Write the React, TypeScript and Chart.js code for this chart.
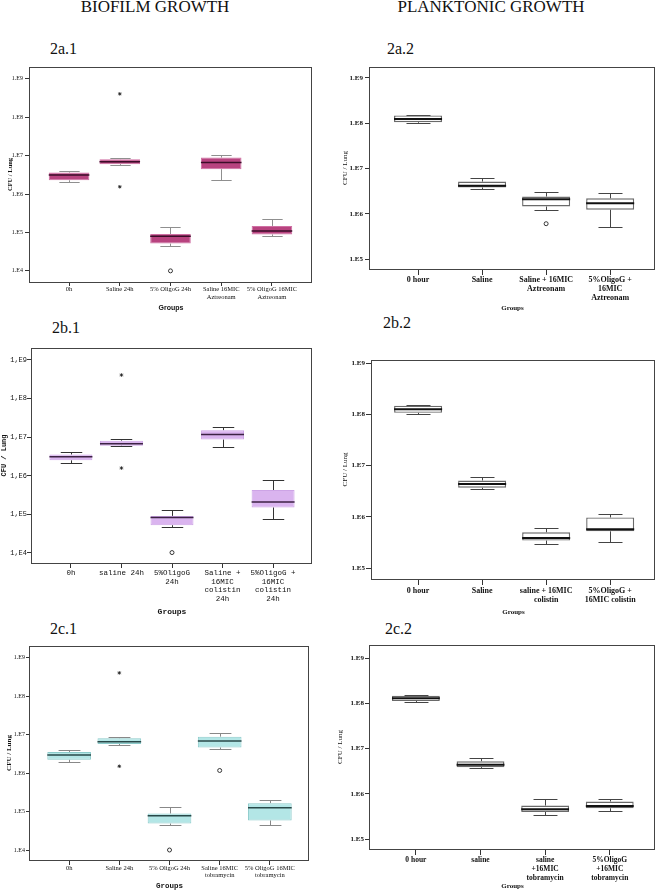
import React, { useEffect, useRef } from "react";
import { Chart, registerables } from "chart.js";
Chart.register(...registerables);

type Pt = { x: number; y: number };

// ---------- 2a.1 (biofilm, aztreonam) values are log10 CFU/Lung ----------
const a1Labels = [["0h"], ["Saline 24h"], ["5% OligoG 24h"], ["Saline 16MIC", "Aztreonam"], ["5% OligoG 16MIC", "Aztreonam"]];
const a1Lo = [6.32, 6.75, 4.65, 6.36, 4.9];
const a1Q1 = [6.36, 6.78, 4.71, 6.65, 4.95];
const a1Med = [6.5, 6.84, 4.9, 6.82, 5.04];
const a1Q3 = [6.56, 6.91, 4.96, 6.95, 5.17];
const a1Hi = [6.61, 6.95, 5.13, 7.01, 5.36];
const a1Circles: Pt[] = [{ x: 2, y: 4.0 }];
const a1Stars: Pt[] = [{ x: 1, y: 8.61 }, { x: 1, y: 6.19 }];
const a1Ticks = [4, 5, 6, 7, 8, 9];
const a1TickLabels = ["1.E4", "1.E5", "1.E6", "1.E7", "1.E8", "1.E9"];

// ---------- 2a.2 (planktonic, aztreonam) ----------
const a2Labels = [["0 hour"], ["Saline"], ["Saline + 16MIC", "Aztreonam"], ["5%OligoG +", "16MIC", "Aztreonam"]];
const a2Lo = [8.01, 6.54, 6.09, 5.7];
const a2Q1 = [8.02, 6.58, 6.16, 6.09];
const a2Med = [8.09, 6.62, 6.32, 6.23];
const a2Q3 = [8.17, 6.71, 6.38, 6.34];
const a2Hi = [8.19, 6.78, 6.48, 6.45];
const a2Circles: Pt[] = [{ x: 2, y: 5.78 }];
const a2Stars: Pt[] = [];
const a2Ticks = [5, 6, 7, 8, 9];
const a2TickLabels = ["1.E5", "1.E6", "1.E7", "1.E8", "1.E9"];

// ---------- 2b.1 (biofilm, colistin) ----------
const b1Labels = [["0h"], ["saline 24h"], ["5%OligoG", "24h"], ["Saline +", "16MIC", "colistin", "24h"], ["5%OligoG +", "16MIC", "colistin", "24h"]];
const b1Lo = [6.33, 6.76, 4.67, 6.75, 4.89];
const b1Q1 = [6.4, 6.78, 4.72, 6.94, 5.18];
const b1Med = [6.49, 6.83, 4.92, 7.07, 5.32];
const b1Q3 = [6.55, 6.91, 4.96, 7.18, 5.63];
const b1Hi = [6.62, 6.94, 5.12, 7.26, 5.9];
const b1Circles: Pt[] = [{ x: 2, y: 4.01 }];
const b1Stars: Pt[] = [{ x: 1, y: 8.61 }, { x: 1, y: 6.2 }];
const b1Ticks = [4, 5, 6, 7, 8, 9];
const b1TickLabels = ["1,E4", "1,E5", "1,E6", "1,E7", "1,E8", "1,E9"];

// ---------- 2b.2 (planktonic, colistin) ----------
const b2Labels = [["0 hour"], ["Saline"], ["saline + 16MIC", "colistin"], ["5%OligoG +", "16MIC colistin"]];
const b2Lo = [8.01, 6.54, 5.48, 5.51];
const b2Q1 = [8.03, 6.57, 5.54, 5.72];
const b2Med = [8.1, 6.64, 5.59, 5.76];
const b2Q3 = [8.17, 6.71, 5.7, 5.99];
const b2Hi = [8.18, 6.78, 5.78, 6.05];
const b2Circles: Pt[] = [];
const b2Stars: Pt[] = [];
const b2Ticks = [5, 6, 7, 8, 9];
const b2TickLabels = ["1.E5", "1.E6", "1.E7", "1.E8", "1.E9"];

// ---------- 2c.1 (biofilm, tobramycin) ----------
const c1Labels = [["0h"], ["Saline 24h"], ["5% OligoG 24h"], ["Saline 16MIC", "tobramycin"], ["5% OligoG 16MIC", "tobramycin"]];
const c1Lo = [6.3, 6.74, 4.64, 6.64, 4.64];
const c1Q1 = [6.35, 6.76, 4.69, 6.67, 4.77];
const c1Med = [6.47, 6.82, 4.89, 6.84, 5.1];
const c1Q3 = [6.55, 6.91, 4.95, 6.95, 5.22];
const c1Hi = [6.61, 6.94, 5.12, 7.05, 5.3];
const c1Circles: Pt[] = [{ x: 2, y: 4.0 }, { x: 3, y: 6.07 }];
const c1Stars: Pt[] = [{ x: 1, y: 8.61 }, { x: 1, y: 6.18 }];
const c1Ticks = [4, 5, 6, 7, 8, 9];
const c1TickLabels = ["1.E4", "1.E5", "1.E6", "1.E7", "1.E8", "1.E9"];

// ---------- 2c.2 (planktonic, tobramycin) ----------
const c2Labels = [["0 hour"], ["saline"], ["saline", "+16MIC", "tobramycin"], ["5%OligoG", "+16MIC", "tobramycin"]];
const c2Lo = [8.02, 6.56, 5.53, 5.62];
const c2Q1 = [8.05, 6.59, 5.6, 5.68];
const c2Med = [8.11, 6.64, 5.66, 5.73];
const c2Q3 = [8.17, 6.72, 5.74, 5.83];
const c2Hi = [8.19, 6.8, 5.88, 5.88];
const c2Circles: Pt[] = [];
const c2Stars: Pt[] = [];
const c2Ticks = [5, 6, 7, 8, 9];
const c2TickLabels = ["1.E5", "1.E6", "1.E7", "1.E8", "1.E9"];

type Font = { family: string; size: number; weight?: string; lineHeight?: number };

type PanelCfg = {
  title: string; titleX: number; titleY: number;
  left: number; top: number; width: number; height: number;
  plotL: number; plotT: number; plotR: number; plotB: number;
  labels: string[][]; lo: number[]; q1: number[]; med: number[]; q3: number[]; hi: number[];
  circles: Pt[]; stars: Pt[]; yTicks: number[]; yTickLabels: string[];
  yMin: number; yMax: number; xMin: number; xMax: number; boxFrac: number;
  fill: string; stroke: string; strokeW: number; medColor: string; medWidth: number; whisker: string;
  tickFont: Font; labelFont: Font; yTitleFont: Font; xTitleFont: Font;
  yTickLen: number; yTickPad: number; xTickLen: number; xTickPad: number; yTitlePad: number;
};

const SERIF = "'Liberation Serif', 'Times New Roman', serif";
const MONO = "'Liberation Mono', 'Courier New', monospace";
const SANS = "'Liberation Sans', Arial, sans-serif";

const panels: PanelCfg[] = [
  {
    title: "2a.1", titleX: 50, titleY: 41,
    left: 0, top: 60, width: 318, height: 252, plotL: 30, plotT: 67, plotR: 312, plotB: 282,
    labels: a1Labels, lo: a1Lo, q1: a1Q1, med: a1Med, q3: a1Q3, hi: a1Hi,
    circles: a1Circles, stars: a1Stars, yTicks: a1Ticks, yTickLabels: a1TickLabels,
    yMin: 3.71, yMax: 9.31, xMin: -0.77, xMax: 4.79, boxFrac: 0.8,
    fill: "#b8437f", stroke: "#cf6fa3", strokeW: 1, medColor: "#3a0d28", medWidth: 1.5, whisker: "#8f8f8f",
    tickFont: { family: SERIF, size: 6 }, labelFont: { family: SERIF, size: 6.5, lineHeight: 1.15 },
    yTitleFont: { family: SERIF, size: 6.5, weight: "bold" }, xTitleFont: { family: SANS, size: 7, weight: "bold" },
    yTickLen: 5, yTickPad: 2, xTickLen: 4, xTickPad: 0, yTitlePad: 6,
  },
  {
    title: "2a.2", titleX: 387, titleY: 41,
    left: 330, top: 60, width: 330, height: 252, plotL: 370, plotT: 67, plotR: 655, plotB: 269,
    labels: a2Labels, lo: a2Lo, q1: a2Q1, med: a2Med, q3: a2Q3, hi: a2Hi,
    circles: a2Circles, stars: a2Stars, yTicks: a2Ticks, yTickLabels: a2TickLabels,
    yMin: 4.78, yMax: 9.24, xMin: -0.75, xMax: 3.7, boxFrac: 0.75,
    fill: "#ffffff", stroke: "#6a6a6a", strokeW: 1.4, medColor: "#111111", medWidth: 2, whisker: "#444444",
    tickFont: { family: SERIF, size: 7, weight: "bold" }, labelFont: { family: SERIF, size: 8, weight: "bold", lineHeight: 1.1 },
    yTitleFont: { family: SERIF, size: 7 }, xTitleFont: { family: SERIF, size: 7, weight: "bold" },
    yTickLen: 5, yTickPad: 2, xTickLen: 6, xTickPad: 1, yTitlePad: 11,
  },
  {
    title: "2b.1", titleX: 52, titleY: 320,
    left: 0, top: 340, width: 318, height: 277, plotL: 32, plotT: 348, plotR: 312, plotB: 563,
    labels: b1Labels, lo: b1Lo, q1: b1Q1, med: b1Med, q3: b1Q3, hi: b1Hi,
    circles: b1Circles, stars: b1Stars, yTicks: b1Ticks, yTickLabels: b1TickLabels,
    yMin: 3.74, yMax: 9.31, xMin: -0.77, xMax: 4.77, boxFrac: 0.85,
    fill: "#dab4ef", stroke: "#cda4e6", strokeW: 1, medColor: "#3c2244", medWidth: 1.5, whisker: "#333333",
    tickFont: { family: MONO, size: 7 }, labelFont: { family: MONO, size: 7.5, lineHeight: 1.13 },
    yTitleFont: { family: MONO, size: 7, weight: "bold" }, xTitleFont: { family: MONO, size: 8, weight: "bold" },
    yTickLen: 5, yTickPad: 0, xTickLen: 5, xTickPad: 1, yTitlePad: 0,
  },
  {
    title: "2b.2", titleX: 383, titleY: 315,
    left: 330, top: 350, width: 330, height: 266, plotL: 372, plotT: 360, plotR: 655, plotB: 579,
    labels: b2Labels, lo: b2Lo, q1: b2Q1, med: b2Med, q3: b2Q3, hi: b2Hi,
    circles: b2Circles, stars: b2Stars, yTicks: b2Ticks, yTickLabels: b2TickLabels,
    yMin: 4.79, yMax: 9.06, xMin: -0.72, xMax: 3.7, boxFrac: 0.75,
    fill: "#ffffff", stroke: "#6a6a6a", strokeW: 1.4, medColor: "#111111", medWidth: 2, whisker: "#444444",
    tickFont: { family: SERIF, size: 7, weight: "bold" }, labelFont: { family: SERIF, size: 8, weight: "bold", lineHeight: 1.15 },
    yTitleFont: { family: SERIF, size: 7 }, xTitleFont: { family: SERIF, size: 7, weight: "bold" },
    yTickLen: 6, yTickPad: 1, xTickLen: 6, xTickPad: 1, yTitlePad: 11,
  },
  {
    title: "2c.1", titleX: 50, titleY: 621,
    left: 0, top: 638, width: 318, height: 253, plotL: 30, plotT: 646, plotR: 309, plotB: 860,
    labels: c1Labels, lo: c1Lo, q1: c1Q1, med: c1Med, q3: c1Q3, hi: c1Hi,
    circles: c1Circles, stars: c1Stars, yTicks: c1Ticks, yTickLabels: c1TickLabels,
    yMin: 3.74, yMax: 9.31, xMin: -0.78, xMax: 4.78, boxFrac: 0.87,
    fill: "#b3e6e6", stroke: "#8ccbcb", strokeW: 1, medColor: "#284848", medWidth: 1.5, whisker: "#888888",
    tickFont: { family: SERIF, size: 6 }, labelFont: { family: SERIF, size: 6.5, lineHeight: 1.1 },
    yTitleFont: { family: SERIF, size: 7, weight: "bold" }, xTitleFont: { family: MONO, size: 7.5, weight: "bold" },
    yTickLen: 4, yTickPad: 1, xTickLen: 5, xTickPad: 0, yTitlePad: 5,
  },
  {
    title: "2c.2", titleX: 385, titleY: 621,
    left: 330, top: 637, width: 330, height: 253, plotL: 370, plotT: 645, plotR: 655, plotB: 849,
    labels: c2Labels, lo: c2Lo, q1: c2Q1, med: c2Med, q3: c2Q3, hi: c2Hi,
    circles: c2Circles, stars: c2Stars, yTicks: c2Ticks, yTickLabels: c2TickLabels,
    yMin: 4.78, yMax: 9.29, xMin: -0.71, xMax: 3.7, boxFrac: 0.74,
    fill: "#ffffff", stroke: "#6a6a6a", strokeW: 1.4, medColor: "#111111", medWidth: 2, whisker: "#444444",
    tickFont: { family: SERIF, size: 7, weight: "bold" }, labelFont: { family: SERIF, size: 7.5, weight: "bold", lineHeight: 1.2 },
    yTitleFont: { family: SERIF, size: 7 }, xTitleFont: { family: SERIF, size: 7, weight: "bold" },
    yTickLen: 5, yTickPad: 1, xTickLen: 6, xTickPad: 1, yTitlePad: 6,
  },
];

function Panel({ c }: { c: PanelCfg }) {
  const ref = useRef<HTMLCanvasElement>(null);
  useEffect(() => {
    if (!ref.current) return;
    const boxPlugin = {
      id: "boxWhisker",
      beforeDatasetsDraw(chart: any) {
        const ctx = chart.ctx;
        const xs = chart.scales.x;
        const ys = chart.scales.y;
        const meta = chart.getDatasetMeta(0);
        ctx.save();
        ctx.strokeStyle = c.whisker;
        ctx.lineWidth = 1;
        c.labels.forEach((_, i) => {
          const w = (meta.data[i] as any).width;
          const px = Math.round(xs.getPixelForValue(i)) + 0.5;
          const cw = w / 4;
          const yHi = Math.round(ys.getPixelForValue(c.hi[i])) + 0.5;
          const yLo = Math.round(ys.getPixelForValue(c.lo[i])) + 0.5;
          const yQ1 = ys.getPixelForValue(c.q1[i]);
          const yQ3 = ys.getPixelForValue(c.q3[i]);
          ctx.beginPath();
          ctx.moveTo(px, yQ3); ctx.lineTo(px, yHi);
          ctx.moveTo(px, yQ1); ctx.lineTo(px, yLo);
          ctx.moveTo(px - cw, yHi); ctx.lineTo(px + cw, yHi);
          ctx.moveTo(px - cw, yLo); ctx.lineTo(px + cw, yLo);
          ctx.stroke();
        });
        ctx.restore();
      },
      afterDatasetsDraw(chart: any) {
        const ctx = chart.ctx;
        const xs = chart.scales.x;
        const ys = chart.scales.y;
        const meta = chart.getDatasetMeta(0);
        ctx.save();
        ctx.strokeStyle = c.medColor;
        ctx.lineWidth = c.medWidth;
        c.labels.forEach((_, i) => {
          const w = (meta.data[i] as any).width;
          const px = xs.getPixelForValue(i);
          const y = ys.getPixelForValue(c.med[i]);
          ctx.beginPath();
          ctx.moveTo(px - w / 2, y); ctx.lineTo(px + w / 2, y);
          ctx.stroke();
        });
        ctx.restore();
      },
      afterDraw(chart: any) {
        const { left, top, right, bottom } = chart.chartArea;
        const ctx = chart.ctx;
        ctx.save();
        ctx.strokeStyle = "#444";
        ctx.lineWidth = 1;
        ctx.strokeRect(Math.round(left) - 0.5, Math.round(top) + 0.5, Math.round(right - left), Math.round(bottom - top));
        ctx.restore();
      },
    };
    const chart = new Chart(ref.current, {
      type: "bar",
      data: {
        datasets: [
          {
            type: "bar",
            data: c.labels.map((_, i) => ({ x: i, y: [c.q1[i], c.q3[i]] })) as any,
            backgroundColor: c.fill,
            borderColor: c.stroke,
            borderWidth: c.strokeW,
            borderSkipped: false,
            barPercentage: 1,
            categoryPercentage: c.boxFrac,
          } as any,
          {
            type: "scatter",
            data: c.circles as any,
            pointStyle: "circle",
            radius: 2,
            borderColor: "#222",
            backgroundColor: "rgba(0,0,0,0)",
            borderWidth: 0.9,
          } as any,
          {
            type: "scatter",
            data: c.stars as any,
            pointStyle: "star",
            radius: 1.8,
            borderColor: "#222",
            backgroundColor: "#222",
            borderWidth: 0.8,
          } as any,
        ],
      },
      options: {
        responsive: false,
        animation: false,
        devicePixelRatio: 1,
        layout: { padding: { top: c.plotT - c.top, right: c.left + c.width - c.plotR, left: 0, bottom: 0 } },
        plugins: { legend: { display: false }, tooltip: { enabled: false } },
        scales: {
          x: {
            type: "linear",
            offset: false,
            bounds: "data",
            min: c.xMin,
            max: c.xMax,
            afterBuildTicks: (ax: any) => {
              ax.ticks = c.labels.map((_, i) => ({ value: i }));
            },
            afterFit: (ax: any) => {
              ax.height = c.top + c.height - c.plotB;
            },
            ticks: {
              autoSkip: false,
              maxRotation: 0,
              minRotation: 0,
              padding: c.xTickPad,
              color: "#111",
              font: c.labelFont as any,
              callback: (_v: any, i: number) => c.labels[i],
            },
            grid: { display: true, offset: false, drawOnChartArea: false, drawTicks: true, tickLength: c.xTickLen, color: "#333" },
            border: { display: false },
            title: { display: true, text: "Groups", font: c.xTitleFont as any, color: "#111", padding: 0 },
          },
          y: {
            type: "linear",
            bounds: "data",
            min: c.yMin,
            max: c.yMax,
            afterBuildTicks: (ax: any) => {
              ax.ticks = c.yTicks.map((v) => ({ value: v }));
            },
            afterFit: (ax: any) => {
              ax.width = c.plotL - c.left;
            },
            ticks: {
              padding: c.yTickPad,
              color: "#111",
              font: c.tickFont as any,
              callback: (_v: any, i: number) => c.yTickLabels[i],
            },
            grid: { display: true, drawOnChartArea: false, drawTicks: true, tickLength: c.yTickLen, color: "#333" },
            border: { display: false },
            title: { display: true, text: "CFU / Lung", font: c.yTitleFont as any, color: "#111", padding: { top: c.yTitlePad, bottom: 0 } },
          },
        },
      },
      plugins: [boxPlugin],
    });
    return () => chart.destroy();
  }, [c]);
  return (
    <canvas
      ref={ref}
      width={c.width}
      height={c.height}
      style={{ position: "absolute", left: c.left, top: c.top, width: c.width, height: c.height }}
    />
  );
}

export default function App() {
  const headStyle: React.CSSProperties = {
    position: "absolute",
    top: -2,
    width: 330,
    textAlign: "center",
    fontFamily: SERIF,
    fontSize: 17,
    lineHeight: "17px",
    color: "#111",
    whiteSpace: "nowrap",
  };
  return (
    <div style={{ position: "absolute", left: 0, top: 0, width: 660, height: 892, background: "#fff", overflow: "hidden" }}>
      <div style={{ ...headStyle, left: -10 }}>BIOFILM GROWTH</div>
      <div style={{ ...headStyle, left: 326 }}>PLANKTONIC GROWTH</div>
      {panels.map((p) => (
        <div
          key={p.title + "t"}
          style={{ position: "absolute", left: p.titleX, top: p.titleY, fontFamily: SERIF, fontSize: 16, lineHeight: "16px", color: "#111" }}
        >
          {p.title}
        </div>
      ))}
      {panels.map((p) => (
        <Panel key={p.title} c={p} />
      ))}
    </div>
  );
}
